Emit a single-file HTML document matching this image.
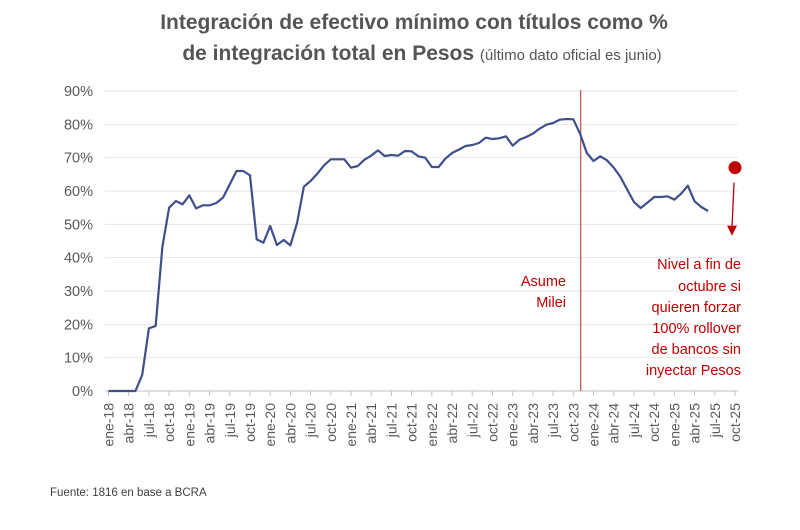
<!DOCTYPE html>
<html><head><meta charset="utf-8"><style>
body{margin:0;background:#fff;width:800px;height:525px;overflow:hidden;font-family:"Liberation Sans",sans-serif}
</style></head><body>
<svg width="800" height="525" xmlns="http://www.w3.org/2000/svg" font-family="Liberation Sans, sans-serif">
<text x="414" y="29" text-anchor="middle" font-size="21" font-weight="bold" fill="#555555">Integración de efectivo mínimo con títulos como %</text>
<text x="422" y="60" text-anchor="middle" font-size="21" font-weight="bold" fill="#555555">de integración total en Pesos <tspan font-size="15" font-weight="normal">(último dato oficial es junio)</tspan></text>
<g id="grid"></g><g id="yt"></g><g id="xt"></g>
<line x1="580.7" y1="90" x2="580.7" y2="391" stroke="#c0504d" stroke-width="1.2"/>
<text font-size="14.5" fill="#c00000" text-anchor="end"><tspan x="566" y="286">Asume</tspan><tspan x="566" y="307">Milei</tspan></text>
<text font-size="14.5" fill="#c00000" text-anchor="end"><tspan x="741" y="269">Nivel a fin de</tspan><tspan x="741" y="291">octubre si</tspan><tspan x="741" y="312">quieren forzar</tspan><tspan x="741" y="333">100% rollover</tspan><tspan x="741" y="354">de bancos sin</tspan><tspan x="741" y="375">inyectar Pesos</tspan></text>
<g id="series"></g>
<text x="50" y="496" font-size="11.5" fill="#404040">Fuente: 1816 en base a BCRA</text>
</svg>
<script>
const months=["ene","feb","mar","abr","may","jun","jul","ago","sep","oct","nov","dic"];
const yTicks=[0,10,20,30,40,50,60,70,80,90];
const values=[0,0,0,0,0,4.8,18.8,19.5,43.3,55,57,56,58.7,54.8,55.7,55.7,56.4,58,62,66,66,64.7,45.5,44.5,49.5,43.8,45.3,43.7,50.5,61.3,63,65.2,67.7,69.5,69.5,69.5,67,67.5,69.4,70.6,72.2,70.5,70.8,70.6,72,71.9,70.4,70,67.2,67.2,69.7,71.4,72.4,73.5,73.8,74.4,76,75.6,75.8,76.4,73.6,75.4,76.2,77.2,78.7,79.9,80.4,81.4,81.6,81.5,77.2,71.4,69,70.4,69.2,67,64.2,60.4,56.7,54.9,56.5,58.2,58.2,58.4,57.4,59.2,61.6,56.9,55.2,54];
const targetIndex=93;
const targetValue=67;
const nMonths=94;
const NS="http://www.w3.org/2000/svg";
const x=i=>108.5+i*(735-108.5)/(nMonths-1);
const y=v=>391-v*300/90;
function mk(t,a,p){const e=document.createElementNS(NS,t);for(const k in a)e.setAttribute(k,a[k]);document.getElementById(p).appendChild(e);return e;}
yTicks.forEach(v=>{
 const g=mk("line",{x1:105,x2:738,y1:y(v),y2:y(v),stroke:v===0?"#bfbfbf":"#e6e6e6","stroke-width":1},"grid");
 
 
 const t=mk("text",{x:93,y:y(v)+5,"text-anchor":"end","font-size":14.5,fill:"#595959"},"yt");
 t.textContent=v+"%";
 
 
});
for(let i=0;i<nMonths;i+=3){
 const l=mk("line",{x1:x(i),x2:x(i),y1:391,y2:396,stroke:"#bfbfbf"},"grid");
 
 
 const lab=months[i%12]+"-"+(18+Math.floor(i/12));
 const t=mk("text",{transform:`translate(${x(i)+5},403) rotate(-90)`,"text-anchor":"end","font-size":14,fill:"#595959"},"xt");
 t.textContent=lab;
 
 
}
const p=mk("polyline",{points:values.map((v,i)=>x(i)+","+y(v)).join(" "),fill:"none",stroke:"#3f4f8a","stroke-width":2.2,"stroke-linejoin":"round"},"series");


const c=mk("circle",{cx:x(targetIndex),cy:y(targetValue),r:6.5,fill:"#c00000"},"series");


const ax=x(targetIndex)-3;
const ar=mk("line",{x1:x(targetIndex)-1,y1:y(targetValue)+15,x2:ax,y2:y(targetValue)+60,stroke:"#c00000","stroke-width":1.3},"series");


const ah=mk("polygon",{points:`${ax-5},${y(targetValue)+58} ${ax+5},${y(targetValue)+58} ${ax},${y(targetValue)+68}`,fill:"#c00000"},"series");


</script>
</body></html>
